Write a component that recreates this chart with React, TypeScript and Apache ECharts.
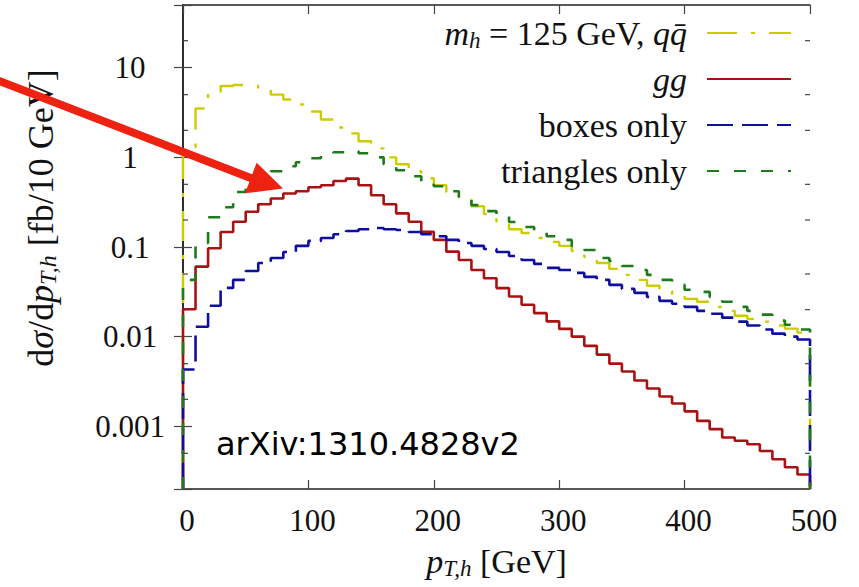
import React, { useEffect, useRef } from "react";
import * as echarts from "echarts";

// ---- data ----
const binLowEdges = [
  0, 10, 20, 30, 40, 50, 60, 70, 80, 90, 100, 110, 120, 130, 140, 150, 160, 170, 180, 190,
  200, 210, 220, 230, 240, 250, 260, 270, 280, 290, 300, 310, 320, 330, 340, 350, 360, 370, 380, 390,
  400, 410, 420, 430, 440, 450, 460, 470, 480, 490,
];
const xMin = 0;
const xMax = 500;
const xInterval = 100;
const yMin = 0.0002;
const yMax = 50;
const yTickValues = [0.001, 0.01, 0.1, 1, 10];
const yTickLabels = ["0.001", "0.01", "0.1", "1", "10"];
const yMinorTickValues = [0.0005, 0.002, 0.005, 0.02, 0.05, 0.2, 0.5, 2, 5, 20];

const qqbarValues = [
  1.29, 3.5, 5.14, 6.25, 6.4, 6.3, 5.84, 5.0, 4.41, 3.88,
  3.24, 2.64, 2.15, 1.85, 1.51, 1.26, 1.0, 0.836, 0.7, 0.585,
  0.489, 0.41, 0.34, 0.285, 0.233, 0.19, 0.158, 0.143, 0.126, 0.114,
  0.103, 0.0903, 0.0774, 0.0664, 0.057, 0.0489, 0.043, 0.0369, 0.0324, 0.0293,
  0.0264, 0.0245, 0.0215, 0.0194, 0.0171, 0.0158, 0.0147, 0.0133, 0.0123, 0.0111,
];
const ggValues = [
  0.0202, 0.0604, 0.097, 0.147, 0.191, 0.247, 0.3, 0.347, 0.395, 0.419,
  0.464, 0.489, 0.545, 0.579, 0.489, 0.378, 0.3, 0.237, 0.191, 0.148,
  0.12, 0.0887, 0.0717, 0.0555, 0.0449, 0.0348, 0.0281, 0.0227, 0.0183, 0.0148,
  0.0122, 0.01, 0.0079, 0.0063, 0.005, 0.00408, 0.00324, 0.00264, 0.00215, 0.0018,
  0.00147, 0.00115, 0.00093, 0.00075, 0.00069, 0.00063, 0.00053, 0.00043, 0.00035, 0.00029,
];
const boxesValues = [
  0.0043, 0.0129, 0.0221, 0.035, 0.043, 0.054, 0.0664, 0.0755, 0.088, 0.103,
  0.117, 0.126, 0.139, 0.151, 0.158, 0.163, 0.158, 0.155, 0.147, 0.139,
  0.132, 0.12, 0.111, 0.103, 0.095, 0.088, 0.0794, 0.0717, 0.0648, 0.0585,
  0.0555, 0.0514, 0.0464, 0.043, 0.0378, 0.0341, 0.0308, 0.0278, 0.0251, 0.0233,
  0.0215, 0.0194, 0.018, 0.0163, 0.0147, 0.0133, 0.012, 0.0108, 0.01, 0.0093,
];
const trianglesValues = [
  0.043, 0.111, 0.215, 0.278, 0.41, 0.489, 0.585, 0.699, 0.794, 0.88,
  0.975, 1.05, 1.14, 1.17, 1.11, 1.0, 0.836, 0.717, 0.615, 0.541,
  0.476, 0.419, 0.36, 0.293, 0.251, 0.227, 0.19, 0.167, 0.147, 0.132,
  0.12, 0.0975, 0.0927, 0.0755, 0.0699, 0.0615, 0.0555, 0.0489, 0.043, 0.0378,
  0.0333, 0.0316, 0.0278, 0.0245, 0.0215, 0.0194, 0.0176, 0.0151, 0.0136, 0.012,
];

const seriesNames = ["qqbar", "gg", "boxes only", "triangles only"];
const legendLabels = [
  "{i|m}{s|h} = 125 GeV, {i|qq\u0304}",
  "{i|gg}",
  "boxes only",
  "triangles only",
];
const yTitle = "d{i|\u03c3}/d{i|p}{s|T,h} [fb/10 GeV]";
const xTitle = "{i|p}{s|T,h} [GeV]";
const noteText = "arXiv:1310.4828v2";

const SERIF = "Liberation Serif";
const TXT = "#111";

function histPoints(vals: number[]) {
  const pts: number[][] = [[xMin, yMin]];
  binLowEdges.forEach((x, i) => pts.push([x, vals[i]]));
  pts.push([xMax, vals[vals.length - 1]]);
  pts.push([xMax, yMin]);
  return pts;
}

const richStyles = (size: number) => ({
  i: { fontFamily: SERIF, fontStyle: "italic", fontSize: size, lineHeight: 38, color: TXT },
  s: { fontFamily: SERIF, fontStyle: "italic", fontSize: Math.round(size * 0.68), lineHeight: 24, verticalAlign: "bottom", color: TXT },
});

export default function App() {
  const ref = useRef<HTMLDivElement>(null);
  useEffect(() => {
    document.body.style.margin = "0";
    if (!ref.current) return;
    const chart = echarts.init(ref.current, null, { renderer: "svg" });

    const mkSeries = (idx: number, vals: number[], color: string, width: number, dash: any, z: number) => ({
      type: "line",
      name: seriesNames[idx],
      data: histPoints(vals),
      step: "end",
      symbol: "none",
      showSymbol: false,
      silent: true,
      clip: true,
      z,
      itemStyle: { color },
      lineStyle: { color, width, type: dash },
    });

    const axisLineStyle = { color: "#222", width: 1.5 };
    const tickStyle = { color: "#444", width: 1.2 };

    const option: any = {
      animation: false,
      grid: { left: 183, right: 49, top: 5, bottom: 98, containLabel: false },
      xAxis: [
        {
          type: "value",
          min: xMin,
          max: xMax,
          interval: xInterval,
          position: "bottom",
          axisLine: { show: true, lineStyle: axisLineStyle },
          axisTick: { show: true, inside: true, length: 9, lineStyle: tickStyle },
          axisLabel: { show: true, margin: 16, fontFamily: SERIF, fontSize: 31, color: TXT, padding: [0, 0, 0, 8] },
          splitLine: { show: false },
          name: xTitle,
          nameLocation: "middle",
          nameGap: 53,
          nameTextStyle: { fontFamily: SERIF, fontSize: 34, color: TXT, lineHeight: 38, rich: richStyles(34) },
        },
        {
          type: "value",
          min: xMin,
          max: xMax,
          interval: xInterval,
          position: "top",
          axisLine: { show: true, lineStyle: axisLineStyle },
          axisTick: { show: true, inside: true, length: 9, lineStyle: tickStyle },
          axisLabel: { show: false },
          splitLine: { show: false },
        },
      ],
      yAxis: [
        {
          type: "log",
          logBase: 10,
          min: yMin,
          max: yMax,
          position: "left",
          axisLine: { show: true, lineStyle: axisLineStyle },
          axisTick: { show: true, inside: true, length: 9, lineStyle: tickStyle },
          axisLabel: {
            show: true,
            align: "center",
            margin: 53,
            fontFamily: SERIF,
            fontSize: 31,
            color: TXT,
            padding: [4, 0, 0, 0],
            formatter: (val: number) => {
              const l = Math.log10(val);
              const idx = yTickValues.findIndex((t) => Math.abs(Math.log10(t) - l) < 1e-6);
              return idx >= 0 ? yTickLabels[idx] : "";
            },
          },
          splitLine: { show: false },
        },
        {
          type: "log",
          logBase: 10,
          min: yMin,
          max: yMax,
          position: "right",
          axisLine: { show: true, lineStyle: axisLineStyle },
          axisTick: { show: true, inside: true, length: 9, lineStyle: tickStyle },
          axisLabel: { show: false },
          splitLine: { show: false },
        },
      ],
      legend: {
        data: seriesNames,
        orient: "vertical",
        right: 67,
        top: 14,
        padding: 0,
        itemWidth: 84,
        itemHeight: 14,
        itemGap: 8,
        align: "right",
        selectedMode: false,
        itemStyle: { opacity: 0 },
        formatter: (name: string) => legendLabels[seriesNames.indexOf(name)],
        textStyle: {
          fontFamily: SERIF,
          fontSize: 34,
          color: TXT,
          lineHeight: 38,
          width: 300,
          padding: [0, 15, 0, 0],
          rich: richStyles(34),
        },
      },
      series: [
        mkSeries(0, qqbarValues, "#cccc00", 2.4, [30, 14, 4, 14], 3),
        mkSeries(1, ggValues, "#a81212", 2.6, "solid", 4),
        mkSeries(2, boxesValues, "#0e0ea0", 2.6, [26, 9], 5),
        mkSeries(3, trianglesValues, "#1d7a1d", 2.6, [12, 15], 6),
        {
          type: "custom",
          name: "minorTicks",
          silent: true,
          z: 7,
          data: yMinorTickValues.map((v) => [xMin, v]),
          renderItem: (_params: any, api: any) => {
            const v = api.value(1);
            const pL = api.coord([xMin, v]);
            const pR = api.coord([xMax, v]);
            return {
              type: "group",
              children: [
                { type: "line", shape: { x1: pL[0], y1: pL[1], x2: pL[0] + 5, y2: pL[1] }, style: { stroke: "#444", lineWidth: 1.2 } },
                { type: "line", shape: { x1: pR[0], y1: pR[1], x2: pR[0] - 5, y2: pR[1] }, style: { stroke: "#444", lineWidth: 1.2 } },
              ],
            };
          },
        },
      ],
      graphic: [
        {
          type: "text",
          x: 41,
          y: 218,
          rotation: Math.PI / 2,
          style: {
            text: yTitle,
            rich: richStyles(36),
            fontFamily: SERIF,
            fontSize: 36,
            lineHeight: 38,
            fill: TXT,
            align: "center",
            verticalAlign: "middle",
          },
        },
        {
          type: "text",
          x: 216,
          y: 444,
          z: 20,
          style: {
            text: noteText,
            fontFamily: "DejaVu Sans",
            fontSize: 32,
            fill: "#000",
            align: "left",
            verticalAlign: "middle",
          },
        },
        {
          type: "line",
          z: 20,
          shape: { x1: -10, y1: 77.4, x2: 252, y2: 178.5 },
          style: { stroke: "#ee2211", lineWidth: 8 },
        },
        {
          type: "polygon",
          z: 20,
          shape: { points: [[256.7, 162.7], [283, 188.5], [245, 193.3]] },
          style: { fill: "#ee2211" },
        },
      ],
    };

    chart.setOption(option);
    return () => chart.dispose();
  }, []);

  return <div ref={ref} style={{ width: 859, height: 587 }} />;
}
